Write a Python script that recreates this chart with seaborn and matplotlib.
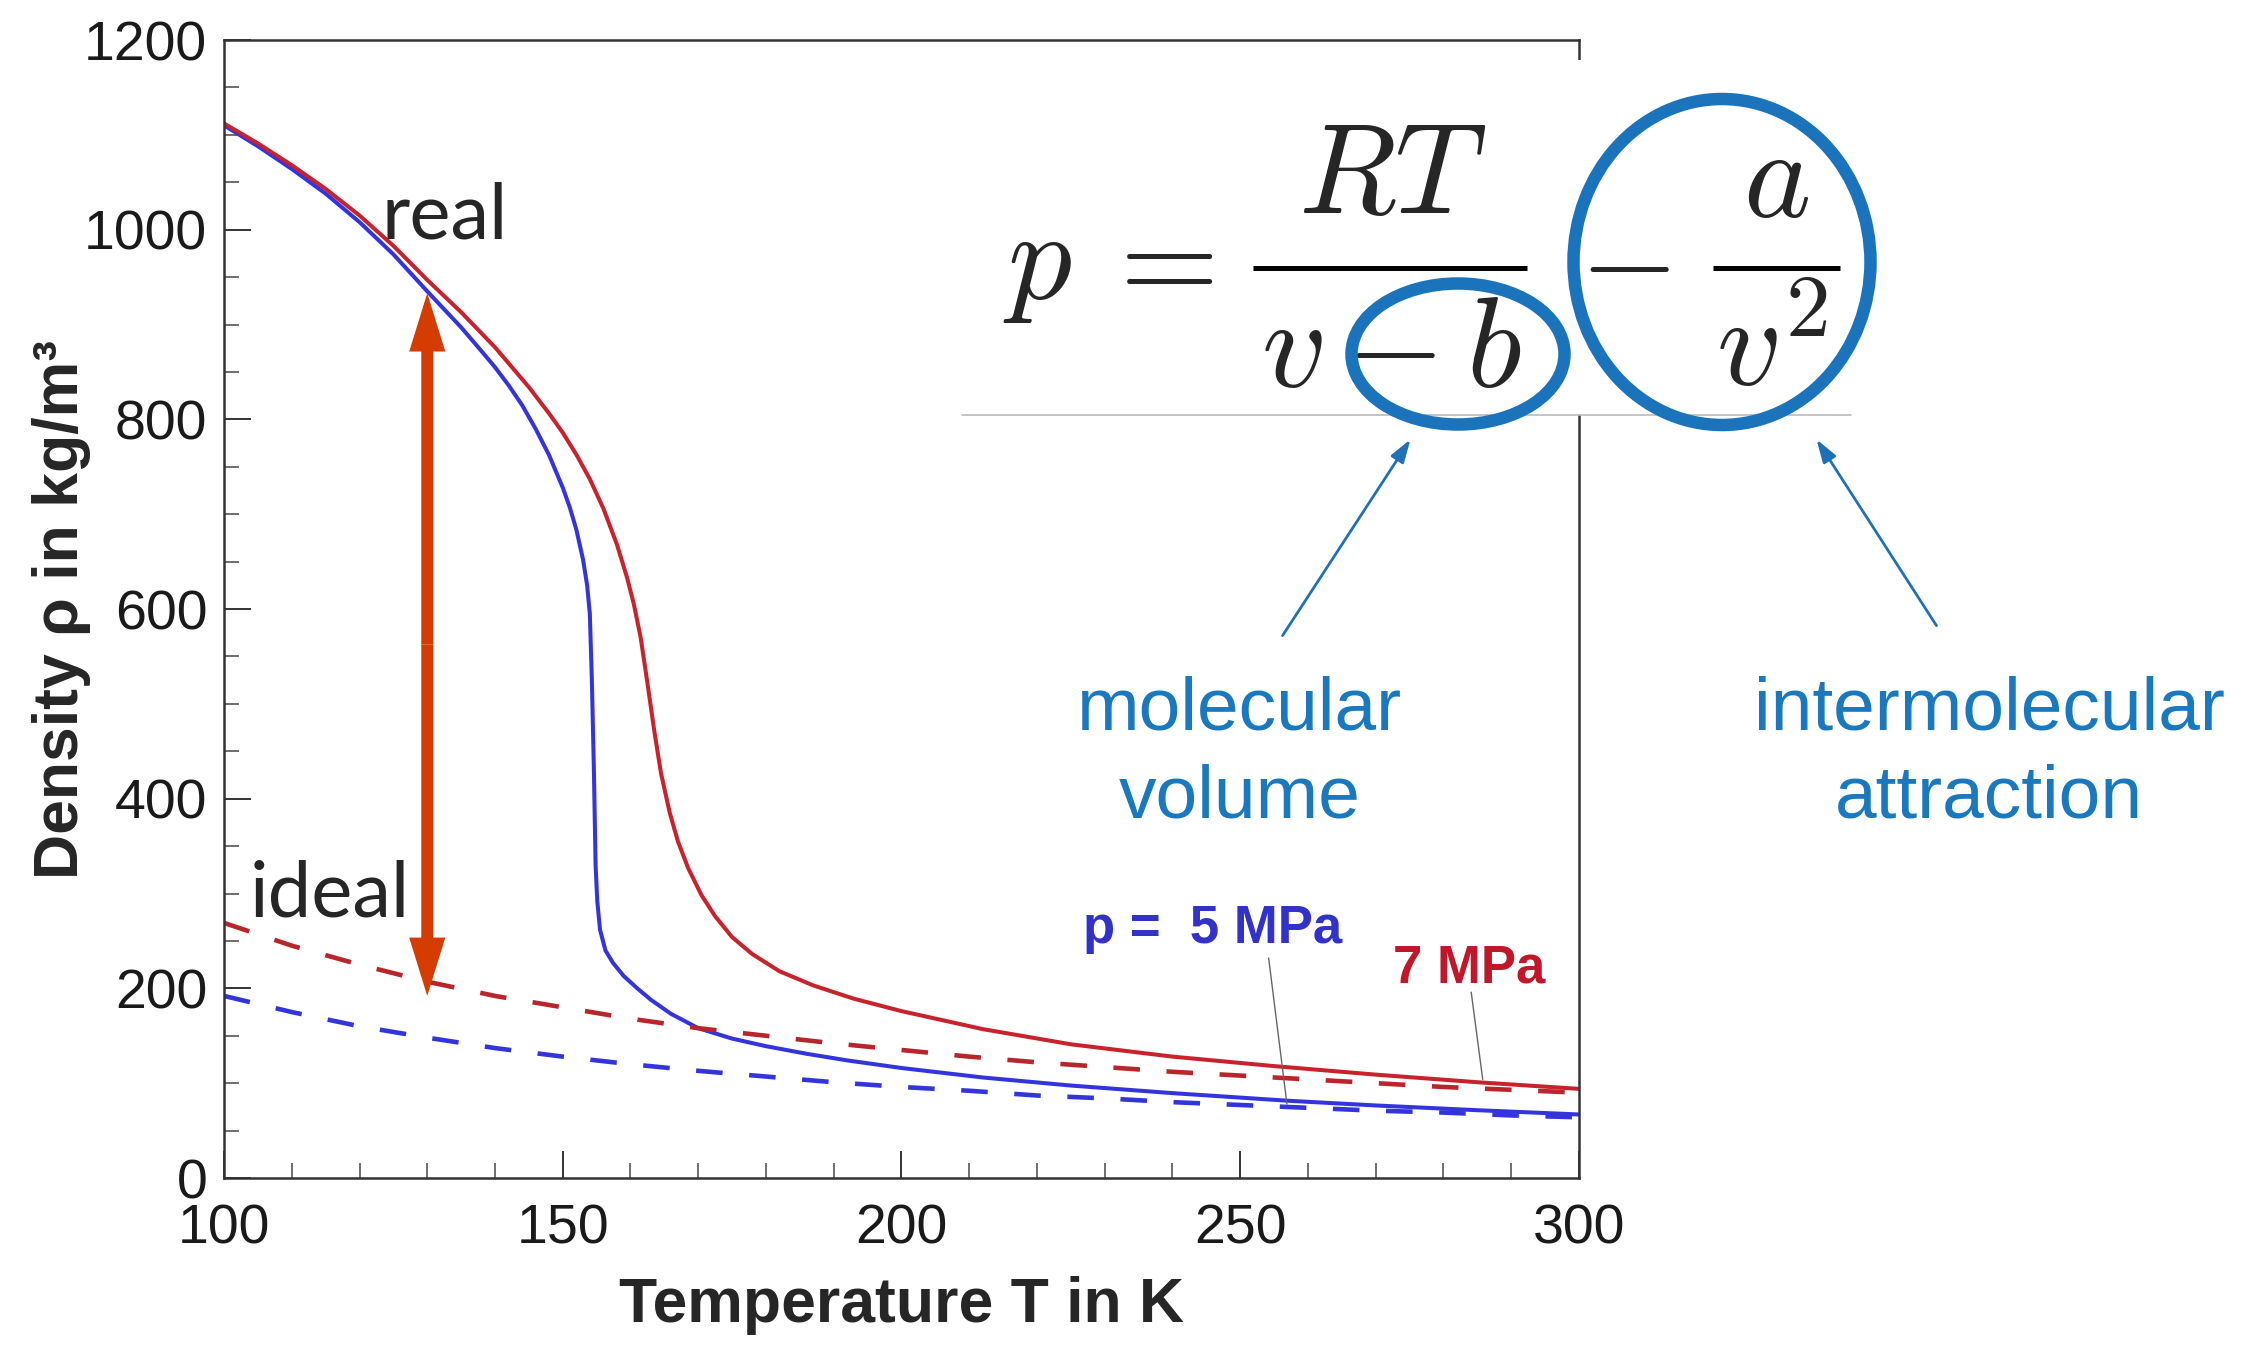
import numpy as np
import pandas as pd
import seaborn as sns
import matplotlib
matplotlib.use("Agg")
from matplotlib import pyplot as plt
from matplotlib.patches import Ellipse, Rectangle, FancyArrowPatch
from matplotlib.lines import Line2D
from matplotlib.ticker import MultipleLocator

# real gas density, p = 5 MPa
t_real_5 = [100, 105, 110, 115, 120, 125, 130, 135, 138, 140, 142, 144, 146, 148, 150, 151,
            152, 153, 153.6, 154, 154.3, 154.6, 154.85, 155.1, 155.5, 156.3, 157.4, 159, 161,
            163, 166, 170, 175, 180, 186, 192, 200, 212, 225, 240, 257, 270, 285, 300]
rho_real_5 = [1110, 1088, 1064, 1038, 1008, 974, 935, 897, 872, 855, 836, 815, 790, 762, 728, 708,
              684, 652, 625, 595, 525, 430, 330, 292, 262, 240, 227, 213, 200,
              188, 173, 158, 147, 139, 131, 124, 116, 106, 97.5, 89.5, 81.5, 76.5, 71.5, 67]

# real gas density, p = 7 MPa
t_real_7 = [100, 105, 110, 115, 120, 125, 130, 135, 140, 145, 148, 150, 152, 154, 156, 158,
            159.5, 160.5, 161.5, 162.5, 163.5, 164.5, 165.8, 167, 168.5, 170.5, 172.5, 175, 178,
            182, 187, 193, 200, 212, 225, 240, 255, 270, 285, 300]
rho_real_7 = [1112, 1091, 1068, 1043, 1015, 983, 947, 913, 876, 834, 806, 786, 763, 737, 706, 668,
              633, 605, 570, 522, 472, 427, 385, 355, 327, 298, 276, 254, 236,
              218, 203, 189, 176, 157, 141, 128, 118, 109, 101, 94]

# ideal gas density (dashed)
t_ideal = [100, 110, 120, 130, 140, 150, 160, 170, 180, 190, 200, 210, 220, 230, 240, 250,
           260, 270, 280, 290, 300]
rho_ideal_5 = [192, 175, 160, 148, 137, 128, 120, 113, 107, 101, 96, 92, 87, 84, 80, 77,
               74, 71, 69, 66, 64]
rho_ideal_7 = [269, 245, 225, 207, 192, 180, 168, 158, 150, 142, 135, 128, 122, 117, 112, 108,
               104, 100, 96, 93, 90]

x_ticks = [100, 150, 200, 250, 300]
y_ticks = [0, 200, 400, 600, 800, 1000, 1200]

BLUE = "#3434dc"
RED = "#c8222d"
RING = "#1b74bb"
ARROW_RED = "#d43c02"
W, H = 2241, 1345

sns.set_style("ticks")
plt.rcParams["font.family"] = ["Liberation Sans", "DejaVu Sans"]

fig = plt.figure(figsize=(22.41, 13.45), dpi=100)
ax = fig.add_axes([0.09996, 0.12416, 0.6046, 0.8461])

# curves
sns.lineplot(x=t_real_5, y=rho_real_5, ax=ax, color=BLUE, lw=2.9, sort=False, estimator=None)
sns.lineplot(x=t_real_7, y=rho_real_7, ax=ax, color=RED, lw=2.9, sort=False, estimator=None)
sns.lineplot(x=t_ideal, y=rho_ideal_5, ax=ax, color=BLUE, lw=3.3, sort=False, estimator=None)
ax.lines[-1].set_dashes((5.8, 5.8))
sns.lineplot(x=t_ideal, y=rho_ideal_7, ax=ax, color="#b8252b", lw=3.3, sort=False, estimator=None)
ax.lines[-1].set_dashes((5.8, 5.8))

ax.set_xlim(100, 300)
ax.set_ylim(0, 1200)
ax.set_xticks(x_ticks)
ax.set_yticks(y_ticks)
ax.xaxis.set_minor_locator(MultipleLocator(10))
ax.yaxis.set_minor_locator(MultipleLocator(50))
ax.tick_params(which="major", direction="in", length=19.5, width=1.4, color="#333333",
               labelsize=40, labelcolor="#1a1a1a", pad=12)
ax.tick_params(axis="x", which="major", pad=18)
ax.tick_params(which="minor", direction="in", length=11, width=1.2, color="#555555")
ax.tick_params(which="both", top=False, right=False)
for s in ax.spines.values():
    s.set_color("#333333")
    s.set_linewidth(1.8)

ax.set_xlabel("Temperature T in K", fontsize=45, fontweight="bold")
ax.set_ylabel("Density ρ in kg/m³", fontsize=45, fontweight="bold")
ax.xaxis.set_label_coords(0.5, -0.086)
ax.yaxis.set_label_coords(-0.098, 0.5)

# real / ideal labels and the double arrow
ax.text(123.3, 991, "real", fontsize=56, family=["Lato", "DejaVu Sans"], va="baseline")
ax.text(103.8, 276, "ideal", fontsize=56, family=["Lato", "DejaVu Sans"], va="baseline")
mid = (192 + 933) / 2
for end in (933, 192):
    ax.add_patch(FancyArrowPatch((130, mid), (130, end),
                                 arrowstyle="simple,head_length=42,head_width=26,tail_width=8.6",
                                 mutation_scale=1, lw=0, color=ARROW_RED, shrinkA=0, shrinkB=0,
                                 zorder=6))

# pressure labels with leader lines
ax.text(226.8, 248, "p =  5 MPa", fontsize=38, fontweight="bold", color="#3232c8", va="baseline")
ax.text(272.5, 206, "7 MPa", fontsize=38, fontweight="bold", color="#c0182a", va="baseline")
ax.annotate("", xy=(256.9, 78), xytext=(254.2, 232),
            arrowprops=dict(arrowstyle="-", color="#666666", lw=1.0, shrinkA=0, shrinkB=0))
ax.annotate("", xy=(285.8, 104), xytext=(284.1, 196),
            arrowprops=dict(arrowstyle="-", color="#666666", lw=1.0, shrinkA=0, shrinkB=0))

# equation box (pixel positions converted to figure fractions)
def fx(px):
    return px / W

def fy(py):
    return 1 - py / H

fig.add_artist(Rectangle((fx(962), fy(415)), fx(1851) - fx(962), fy(60) - fy(415),
                         transform=fig.transFigure, facecolor="white", edgecolor="none", zorder=2))
fig.add_artist(Line2D([fx(962), fx(1851)], [fy(415), fy(415)], transform=fig.transFigure,
                      color="#bbbbbb", lw=1.2, zorder=3))

eq_parts = [(r"$p$", 1038, 299), (r"$=$", 1155, 299), (r"$RT$", 1393, 213),
            (r"$v-b$", 1392, 387), (r"$-$", 1624, 299), (r"$a$", 1776, 217),
            (r"$v^2$", 1772, 387)]
for s, px, py in eq_parts:
    fig.text(fx(px), fy(py), s, fontsize=92, math_fontfamily="cm", ha="center",
             va="baseline", zorder=4)
for x0, x1 in [(1253, 1527), (1713, 1840)]:
    fig.add_artist(Line2D([fx(x0), fx(x1)], [fy(268), fy(268)], transform=fig.transFigure,
                          color="black", lw=3.6, solid_capstyle="butt", zorder=4))

fig.add_artist(Ellipse((fx(1458), fy(354)), 213 / W, 141 / H, transform=fig.transFigure,
                       fill=False, edgecolor=RING, lw=9, zorder=5))
fig.add_artist(Ellipse((fx(1722), fy(262)), 297 / W, 326 / H, transform=fig.transFigure,
                       fill=False, edgecolor=RING, lw=9, zorder=5))

# explanation arrows and texts
for tail, head in [((1281, 638), (1412, 437)), ((1938, 628), (1815, 437))]:
    fig.add_artist(FancyArrowPatch((fx(tail[0]), fy(tail[1])), (fx(head[0]), fy(head[1])),
                                   transform=fig.transFigure,
                                   arrowstyle="-|>,head_length=14,head_width=4.5",
                                   mutation_scale=1, lw=2, color="#1f70b6", zorder=5))
TXT_BLUE = "#1a78be"
fig.text(fx(1240), fy(730), "molecular", fontsize=54, color=TXT_BLUE, ha="center", va="baseline")
fig.text(fx(1240), fy(818), "volume", fontsize=54, color=TXT_BLUE, ha="center", va="baseline")
fig.text(fx(1989), fy(730), "intermolecular", fontsize=54, color=TXT_BLUE, ha="center", va="baseline")
fig.text(fx(1989), fy(818), "attraction", fontsize=54, color=TXT_BLUE, ha="center", va="baseline")

fig.savefig("out.png", dpi=100)
